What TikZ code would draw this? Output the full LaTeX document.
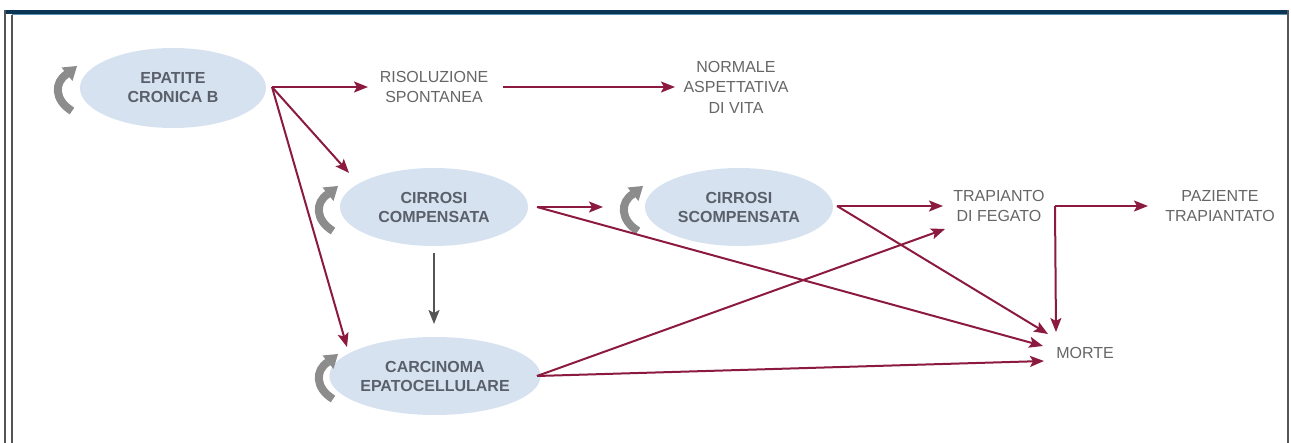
\documentclass[tikz,border=0pt]{standalone}
\usepackage{fontspec}
\setmainfont{Liberation Sans}
\usetikzlibrary{shapes.geometric,arrows.meta}
\definecolor{arrc}{HTML}{8B1A3E}
\definecolor{garrc}{HTML}{555555}
\definecolor{ellfill}{HTML}{D6E2F0}
\definecolor{elltext}{HTML}{5A606B}
\definecolor{lbltext}{HTML}{666666}
\definecolor{iconc}{HTML}{8C8C8C}
\definecolor{navy}{HTML}{0B3555}
\definecolor{lightblue}{HTML}{5B8FB5}
\definecolor{framegray}{HTML}{555555}
\begin{document}
\begin{tikzpicture}[x=1pt,y=-1pt,
  ell/.style={ellipse, fill=ellfill, draw=none, inner sep=0pt, align=center,
    font=\fontsize{16}{19}\selectfont\bfseries, text=elltext},
  lbl/.style={align=center, font=\fontsize{16}{20.5}\selectfont, text=lbltext, inner sep=0pt},
  rarr/.style={draw=arrc, line width=2pt, -{Stealth[length=14pt,width=11pt,inset=3pt]}},
  rline/.style={draw=arrc, line width=2pt},
  garr/.style={draw=garrc, line width=2pt, -{Stealth[length=14pt,width=11pt,inset=3pt]}},
  cyc/.pic={
    \draw[iconc, line width=8pt] (8,23) .. controls (-10,12) and (-10,-6) .. (3,-14);
    \fill[iconc] (13,-22) -- (8.5,-7) -- (-2.5,-20.5) -- cycle;
  }
]
\useasboundingbox (0,0) rectangle (1291,443);
\fill[white] (0,0) rectangle (1291,443);
% frame
\fill[navy] (5,10) rectangle (1289,14);
\draw[lightblue, line width=1.2pt] (12,14.6) -- (1288,14.6);
\draw[framegray, line width=1.5pt] (5,10) -- (5,443);
\draw[framegray, line width=1.5pt] (12,15) -- (12,443);
\draw[framegray, line width=1.5pt] (1288,10) -- (1288,443);

% ellipse nodes
\node[ell, minimum width=186pt, minimum height=80pt] (ecb) at (173,88) {EPATITE\\CRONICA B};
\node[ell, minimum width=188pt, minimum height=78pt] (cc) at (434,207) {CIRROSI\\COMPENSATA};
\node[ell, minimum width=188pt, minimum height=78pt] (cs) at (739,207) {CIRROSI\\SCOMPENSATA};
\node[ell, minimum width=185pt, minimum height=78pt] (carc) at (435,376) {CARCINOMA\\EPATOCELLULARE};

% cycle icons
\pic at (64,88) {cyc};
\pic at (325,208) {cyc};
\pic at (630,208) {cyc};
\pic at (325,376) {cyc};

% text labels
\node[lbl] (ris) at (434,87) {RISOLUZIONE\\SPONTANEA};
\node[lbl] (nor) at (736,87) {NORMALE\\ASPETTATIVA\\DI VITA};
\node[lbl] (tf) at (999,206) {TRAPIANTO\\DI FEGATO};
\node[lbl] (pt) at (1220,206) {PAZIENTE\\TRAPIANTATO};
\node[lbl] (morte) at (1085,353) {MORTE};

% connector end points
\coordinate (ecbR) at (272,87);
\coordinate (risIn) at (368,87);
\coordinate (risOut) at (503,87);
\coordinate (norIn) at (675,87);
\coordinate (ccIn) at (349,173);
\coordinate (carcIn) at (347,347);
\coordinate (ccR) at (537,207);
\coordinate (csIn) at (603,207);
\coordinate (csR) at (837,206);
\coordinate (tfIn) at (943,206);
\coordinate (tfIn2) at (945,229);
\coordinate (junc) at (1055,206);
\coordinate (ptIn) at (1148,206);
\coordinate (carcR) at (537,376);
\coordinate (mA) at (1048,334);
\coordinate (mB) at (1043,346);
\coordinate (mC) at (1044,361);
\coordinate (mD) at (1056,332);
\coordinate (ccB) at (434,253);
\coordinate (carcT) at (434,324);

% connectors
\draw[rarr] (ecbR) -- (risIn);
\draw[rarr] (risOut) -- (norIn);
\draw[rarr] (ecbR) -- (ccIn);
\draw[rarr] (ecbR) -- (carcIn);
\draw[garr] (ccB) -- (carcT);
\draw[rarr] (ccR) -- (csIn);
\draw[rarr] (ccR) -- (mB);
\draw[rarr] (csR) -- (tfIn);
\draw[rarr] (csR) -- (mA);
\draw[rarr] (carcR) -- (tfIn2);
\draw[rarr] (carcR) -- (mC);
\draw[rarr] (junc) -- (ptIn);
\draw[rarr] (junc) -- (mD);
\end{tikzpicture}
\end{document}
